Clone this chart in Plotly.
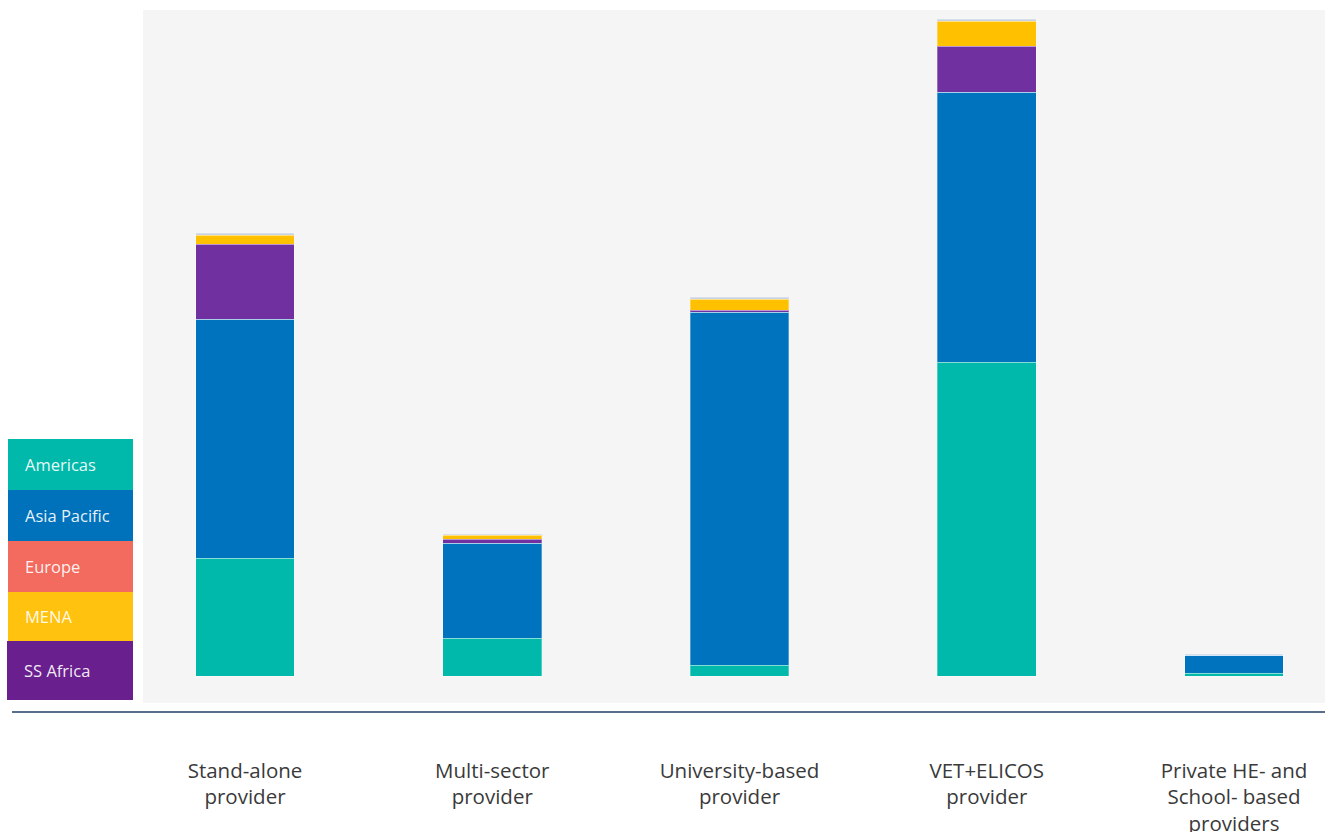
import plotly.graph_objects as go

categories = ["Stand-alone<br>provider", "Multi-sector<br>provider", "University-based<br>provider",
              "VET+ELICOS<br>provider", "Private HE- and<br>School- based<br>providers"]

americas = [118, 38, 11, 314, 3]
asia_pacific = [239, 95, 353, 270, 18]
europe = [0, 0, 0, 0, 0]
ss_africa = [75, 4, 2, 46, 0]
mena = [9, 4, 11, 25, 0]
other = [2, 1, 2, 2, 1]

legend_names = ["Americas", "Asia Pacific", "Europe", "MENA", "SS Africa"]
legend_colors = ["#00b9ab", "#0072bc", "#f26b5e", "#ffc20e", "#6a1f8e"]

bar_colors = {"Americas": "#00b9ab", "Asia Pacific": "#0073be", "Europe": "#f26b5e",
              "SS Africa": "#7030a0", "MENA": "#ffc000", "Other": "#c5d2e2"}

series = [("Americas", americas), ("Asia Pacific", asia_pacific), ("Europe", europe),
          ("SS Africa", ss_africa), ("MENA", mena), ("Other", other)]

fig = go.Figure()
for name, vals in series:
    fig.add_trace(go.Bar(
        x=list(range(len(categories))), y=vals, name=name,
        marker=dict(color=bar_colors[name], line=dict(color="rgba(255,255,255,0.3)", width=1)),
        width=0.40, showlegend=False,
    ))

W, H = 1325, 832
L, R, T, B = 143, 0, 10, 129
pw, ph = W - L - R, H - T - B

def px_x(x):
    return (x - L) / pw

def px_y(y):
    return (H - B - y) / ph

shapes = []
annotations = []
box_edges = [439, 490, 541, 592, 641, 700]
for i, (nm, col) in enumerate(zip(legend_names, legend_colors)):
    y0, y1 = box_edges[i], box_edges[i + 1]
    x0 = 8 if i < 4 else 7
    shapes.append(dict(type="rect", xref="paper", yref="paper",
                       x0=px_x(x0), x1=px_x(133), y0=px_y(y1), y1=px_y(y0),
                       fillcolor=col, line=dict(width=0), layer="above"))
    annotations.append(dict(xref="paper", yref="paper", x=px_x(23 if i < 4 else 22),
                            y=px_y((y0 + y1) / 2), text=nm, showarrow=False,
                            xanchor="left", yanchor="middle",
                            font=dict(family="Open Sans", size=16.5, color="rgba(255,255,255,0.92)")))

shapes.append(dict(type="line", xref="paper", yref="paper",
                   x0=px_x(12), x1=px_x(1325), y0=px_y(712), y1=px_y(712),
                   line=dict(color="#1f3f60", width=1.5)))

fig.update_layout(
    width=W, height=H,
    margin=dict(l=L, r=R, t=T, b=B, pad=0, autoexpand=False),
    paper_bgcolor="white", plot_bgcolor="#f5f5f5",
    barmode="stack",
    shapes=shapes, annotations=annotations,
    xaxis=dict(range=[-0.4125, 4.368], tickmode="array", tickvals=list(range(len(categories))),
               ticktext=categories, showgrid=False, zeroline=False, showline=False,
               ticks="", ticklabelstandoff=53, automargin=False,
               tickfont=dict(family="Open Sans", size=20.5, color="#3a3a3a")),
    yaxis=dict(range=[-27, 666], showticklabels=False, showgrid=False, zeroline=False,
               showline=False, automargin=False),
)

fig.write_html("out.html", config={"displayModeBar": False},
               post_script="document.body.style.margin='0';document.body.style.overflow='hidden';")
